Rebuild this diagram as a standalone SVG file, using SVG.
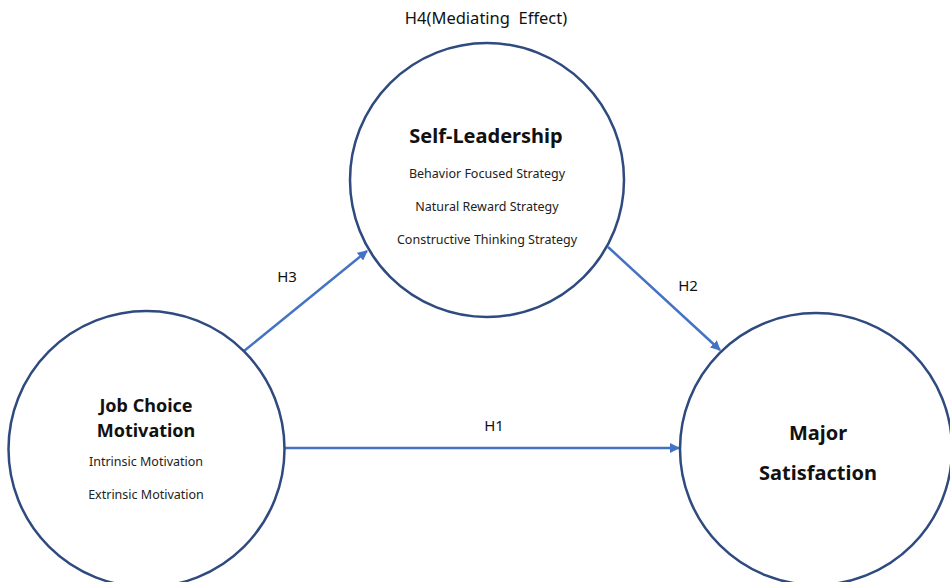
<svg xmlns="http://www.w3.org/2000/svg" width="950" height="582" viewBox="0 0 950 582">
  <defs>
    <marker id="arrow" viewBox="0 0 10 10" refX="9" refY="5" markerWidth="4" markerHeight="4" orient="auto" markerUnits="strokeWidth">
      <path d="M0,0 L10,5 L0,10 z" fill="#4472C4"/>
    </marker>
    <style>
      .node { fill: #ffffff; stroke: #2F4A7F; stroke-width: 2.5; }
      .edge { stroke: #4472C4; stroke-width: 2.5; fill: none; marker-end: url(#arrow); }
      text { font-family: "Noto Sans", "Open Sans", sans-serif; text-anchor: middle; fill: #111111; }
      .title { font-weight: bold; font-size: 20px; }
      .title-sm { font-weight: bold; font-size: 18px; }
      .sub { font-size: 12.5px; fill: #222222; }
      .label { font-size: 15px; }
      .heading { font-size: 16.5px; }
    </style>
  </defs>
  <rect width="950" height="582" fill="#ffffff"/>

  <g id="connectors">
    <line class="edge" x1="244" y1="351" x2="367" y2="251"/>
    <line class="edge" x1="608" y1="247" x2="720" y2="350"/>
    <line class="edge" x1="285" y1="448" x2="679" y2="448"/>
    <text class="label" x="287" y="282">H3</text>
    <text class="label" x="688" y="291">H2</text>
    <text class="label" x="494" y="431">H1</text>
  </g>

  <g id="self-leadership">
    <circle class="node" cx="487" cy="180" r="137"/>
    <text class="title" x="486" y="143">Self-Leadership</text>
    <text class="sub" x="487" y="178">Behavior Focused Strategy</text>
    <text class="sub" x="487" y="211">Natural Reward Strategy</text>
    <text class="sub" x="487" y="244">Constructive Thinking Strategy</text>
  </g>

  <g id="job-choice-motivation">
    <circle class="node" cx="146.5" cy="449" r="138"/>
    <text class="title-sm" x="146" y="412">Job Choice</text>
    <text class="title-sm" x="146" y="437">Motivation</text>
    <text class="sub" x="146" y="466">Intrinsic Motivation</text>
    <text class="sub" x="146" y="499">Extrinsic Motivation</text>
  </g>

  <g id="major-satisfaction">
    <circle class="node" cx="816" cy="449" r="136"/>
    <text class="title" x="818" y="440">Major</text>
    <text class="title" x="818" y="480">Satisfaction</text>
  </g>

  <g id="mediating-effect">
    <text class="heading" x="486" y="24" xml:space="preserve">H4(Mediating  Effect)</text>
  </g>
</svg>
